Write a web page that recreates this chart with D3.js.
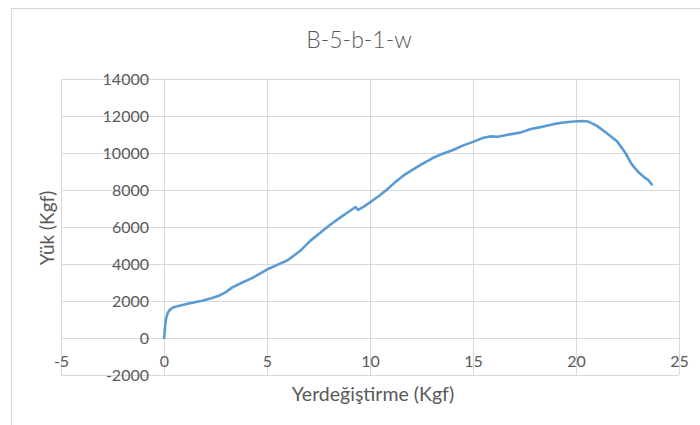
<!DOCTYPE html>
<html>
<head>
<meta charset="utf-8">
<script src="https://cdn.jsdelivr.net/npm/d3@7"></script>
<style>
  html, body { margin: 0; padding: 0; background: #ffffff; }
  svg { display: block; }
  .tick text { fill: #595959; }
</style>
</head>
<body>
<svg id="chart" width="700" height="425"></svg>
<script>
// Load–displacement record for specimen B-5-b-1-w
const chartTitle = "B-5-b-1-w";
const xLabel = "Yerdeğiştirme (Kgf)";
const yLabel = "Yük (Kgf)";

const displacement = [
  0, 0.02, 0.05, 0.1, 0.18, 0.3, 0.5, 0.8, 1.2, 1.8, 2.3, 2.7, 3.0, 3.3, 3.8,
  4.3, 5.0, 5.5, 6.0, 6.6, 7.1, 7.6, 8.1, 8.6, 9.0, 9.3, 9.42, 9.7, 10.0, 10.4,
  10.8, 11.2, 11.6, 12.0, 12.5, 13.0, 13.5, 14.0, 14.5, 15.0, 15.5, 15.9, 16.2,
  16.7, 17.3, 17.8, 18.3, 18.9, 19.4, 19.9, 20.3, 20.6, 21.0, 21.5, 22.0, 22.4,
  22.7, 23.0, 23.3, 23.5, 23.68
];
const load = [
  0, 150, 600, 1050, 1350, 1550, 1680, 1760, 1860, 2000, 2150, 2300, 2480, 2720, 3000,
  3250, 3700, 3950, 4200, 4700, 5250, 5700, 6150, 6550, 6850, 7080, 6920, 7100, 7330, 7650,
  8000, 8400, 8760, 9050, 9380, 9700, 9950, 10150, 10400, 10600, 10820, 10900, 10880,
  10990, 11100, 11300, 11400, 11560, 11650, 11700, 11730, 11700, 11480, 11070, 10620, 10000,
  9400, 9000, 8700, 8550, 8300
];

const xTicks = [-5, 0, 5, 10, 15, 20, 25];
const yTicks = [-2000, 0, 2000, 4000, 6000, 8000, 10000, 12000, 14000];

const svg = d3.select("#chart");
const font = "Lato, 'Open Sans', sans-serif";
const plain = d => String(d);   // hyphen-minus, no grouping

// chart area outline
svg.append("rect")
  .attr("x", 11.5).attr("y", 8.5)
  .attr("width", 720).attr("height", 440)
  .attr("fill", "#ffffff")
  .attr("stroke", "#d9d9d9").attr("stroke-width", 1);

const x = d3.scaleLinear().domain([-5, 25]).range([61, 679]);
const y = d3.scaleLinear().domain([-2000, 14000]).range([375, 79]);

// gridlines
const grid = svg.append("g").attr("stroke", "#d9d9d9").attr("stroke-width", 1);
grid.selectAll("line.v").data(xTicks).join("line")
  .attr("class", "v")
  .attr("x1", d => Math.round(x(d)) + 0.5).attr("x2", d => Math.round(x(d)) + 0.5)
  .attr("y1", y(-2000)).attr("y2", y(14000));
grid.selectAll("line.h").data(yTicks).join("line")
  .attr("class", "h")
  .attr("y1", d => Math.round(y(d)) + 0.5).attr("y2", d => Math.round(y(d)) + 0.5)
  .attr("x1", x(-5)).attr("x2", x(25));

// x axis labels sit under the zero-load line
const xAxis = svg.append("g")
  .attr("transform", `translate(0,${y(0)})`)
  .call(d3.axisBottom(x).tickValues(xTicks).tickSize(0).tickPadding(18).tickFormat(plain));
xAxis.select(".domain").remove();
xAxis.selectAll("text").style("font-family", font).style("font-size", "16px");

// y axis labels sit left of the zero-displacement line
const yAxis = svg.append("g")
  .attr("transform", `translate(${x(0)},0)`)
  .call(d3.axisLeft(y).tickValues(yTicks).tickSize(0).tickPadding(15).tickFormat(plain));
yAxis.select(".domain").remove();
yAxis.selectAll("text").style("font-family", font).style("font-size", "16px");

// series
const pts = displacement.map((d, i) => [d, load[i]]);
svg.append("path")
  .datum(pts)
  .attr("fill", "none")
  .attr("stroke", "#5b9bd5")
  .attr("stroke-width", 2.6)
  .attr("stroke-linejoin", "round")
  .attr("stroke-linecap", "round")
  .attr("d", d3.line().x(d => x(d[0])).y(d => y(d[1])));

// titles
svg.append("text")
  .attr("x", 359).attr("y", 48)
  .attr("text-anchor", "middle")
  .style("font-family", font).style("font-size", "23px").style("font-weight", 300)
  .attr("fill", "#595959")
  .text(chartTitle);

svg.append("text")
  .attr("x", 373).attr("y", 401)
  .attr("text-anchor", "middle")
  .style("font-family", font).style("font-size", "19.5px")
  .attr("fill", "#595959")
  .text(xLabel);

svg.append("text")
  .attr("transform", `translate(54,228) rotate(-90)`)
  .attr("text-anchor", "middle")
  .style("font-family", font).style("font-size", "19px")
  .attr("fill", "#595959")
  .text(yLabel);
</script>
</body>
</html>
